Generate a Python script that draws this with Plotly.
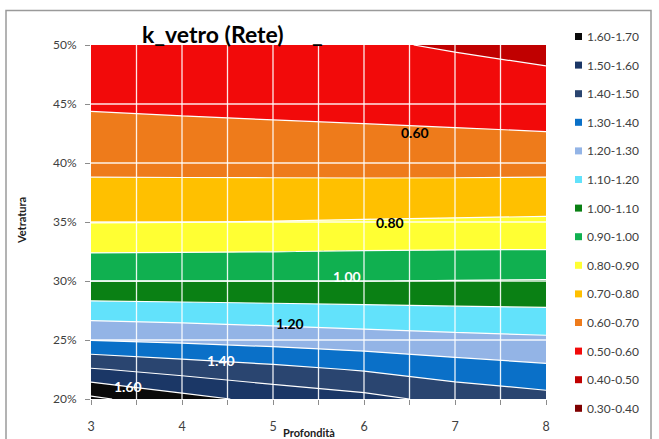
import plotly.graph_objects as go

# ---------------- data ----------------
profondita = [3, 4, 5, 6, 7, 8]
vetratura = [20, 22.5, 25, 27.5, 30, 32.5, 35, 37.5, 40, 42.5, 45, 47.5, 50]
k_vetro = [
    [1.720, 1.634, 1.570, 1.530, 1.470, 1.433],
    [1.509, 1.464, 1.429, 1.392, 1.350, 1.322],
    [1.298, 1.281, 1.262, 1.244, 1.229, 1.217],
    [1.149, 1.141, 1.133, 1.125, 1.117, 1.111],
    [0.999, 0.999, 0.999, 0.999, 1.002, 1.005],
    [0.895, 0.897, 0.899, 0.903, 0.905, 0.906],
    [0.797, 0.799, 0.802, 0.807, 0.811, 0.815],
    [0.728, 0.729, 0.730, 0.731, 0.733, 0.736],
    [0.674, 0.672, 0.670, 0.668, 0.667, 0.667],
    [0.630, 0.624, 0.618, 0.613, 0.608, 0.603],
    [0.590, 0.584, 0.579, 0.574, 0.568, 0.557],
    [0.557, 0.552, 0.547, 0.541, 0.531, 0.513],
    [0.525, 0.520, 0.515, 0.512, 0.490, 0.468],
]

band_labels = ["1.60-1.70", "1.50-1.60", "1.40-1.50", "1.30-1.40", "1.20-1.30",
               "1.10-1.20", "1.00-1.10", "0.90-1.00", "0.80-0.90", "0.70-0.80",
               "0.60-0.70", "0.50-0.60", "0.40-0.50", "0.30-0.40"]
band_colors = ["#0A0A0A", "#1B3766", "#2A4570", "#0A70C8", "#93B4E6",
               "#62E2FB", "#0A8014", "#10B050", "#FFFF33", "#FFC000",
               "#EE7B1B", "#F20A0A", "#C00000", "#7F0000"]

contour_label_text = ["1.60", "1.40", "1.20", "1.00", "0.80", "0.60"]
contour_label_x = [3.41, 4.43, 5.19, 5.81, 6.29, 6.56]
contour_label_y = [21.1, 23.3, 26.4, 30.36, 34.94, 42.6]
contour_label_color = ["white", "white", "black", "white", "black", "black"]

x_tick_vals = [3, 3.5, 4, 4.5, 5, 5.5, 6, 6.5, 7, 7.5, 8]
x_tick_text = ["3", "", "4", "", "5", "", "6", "", "7", "", "8"]
y_tick_vals = [20, 25, 30, 35, 40, 45, 50]
y_tick_text = ["20%", "25%", "30%", "35%", "40%", "45%", "50%"]

# ---------------- layout geometry ----------------
W, H = 659, 439
ML, MR, MT, MB = 91, 113, 45, 40
PW, PH = W - ML - MR, H - MT - MB
FONT = "Lato, 'Open Sans', sans-serif"


def px_x(px):
    return (px - ML) / PW


def px_y(py):
    return (H - MB - py) / PH


# step colorscale: band above level L is coloured at L + size/2
fills = band_colors[::-1]
fills = [fills[0]] + fills + [fills[-1]]
n = len(fills) - 1
colorscale = []
for i, c in enumerate(fills):
    lo = max(0.0, (i - 0.5) / n)
    hi = min(1.0, (i + 0.5) / n)
    colorscale.append([lo, c])
    colorscale.append([hi, c])

fig = go.Figure()
fig.add_trace(go.Contour(
    x=profondita, y=vetratura, z=k_vetro,
    autocontour=False,
    contours=dict(start=0.3, end=1.7, size=0.1, coloring="fill", showlines=True),
    line=dict(color="white", width=1.2, smoothing=0),
    colorscale=colorscale, showscale=False,
    hovertemplate="Profondità %{x}<br>Vetratura %{y}%<br>k_vetro %{z:.2f}<extra></extra>",
))

shapes = []
# white gridlines above the filled contours
for xv in x_tick_vals[1:-1]:
    shapes.append(dict(type="line", xref="x", yref="paper", x0=xv, x1=xv, y0=0, y1=1,
                       line=dict(color="rgba(255,255,255,0.9)", width=1.3), layer="above"))
for yv in y_tick_vals[1:-1]:
    shapes.append(dict(type="line", xref="paper", yref="y", x0=0, x1=1, y0=yv, y1=yv,
                       line=dict(color="rgba(255,255,255,0.9)", width=1.3), layer="above"))
# outer chart frame
shapes.append(dict(type="rect", xref="paper", yref="paper",
                   x0=px_x(6), x1=px_x(651), y0=px_y(446), y1=px_y(10.5),
                   line=dict(color="#9A9A9A", width=1.5), fillcolor="rgba(0,0,0,0)", layer="above"))

annotations = []
# legend
for i, (lab, col) in enumerate(zip(band_labels, band_colors)):
    cy = 36.5 + 28.6 * i
    shapes.append(dict(type="rect", xref="paper", yref="paper",
                       x0=px_x(575), x1=px_x(582), y0=px_y(cy + 3.5), y1=px_y(cy - 3.5),
                       line=dict(width=0), fillcolor=col, layer="above"))
    annotations.append(dict(text=lab, xref="paper", yref="paper", x=px_x(585), y=px_y(cy),
                            xanchor="left", yanchor="middle", showarrow=False,
                            font=dict(family=FONT, size=12, color="#404040")))

# contour labels
for t, xv, yv, c in zip(contour_label_text, contour_label_x, contour_label_y, contour_label_color):
    annotations.append(dict(text="<b>%s</b>" % t, x=xv, y=yv, xref="x", yref="y",
                            xanchor="center", yanchor="middle",
                            showarrow=False, font=dict(family=FONT, size=14, color=c)))

# title and axis titles
annotations.append(dict(text="<b>k_vetro (Rete)</b>", xref="paper", yref="paper",
                        x=px_x(212.5), y=px_y(34), xanchor="center", yanchor="middle",
                        showarrow=False, font=dict(family=FONT, size=23, color="black")))
annotations.append(dict(text="<b>_</b>", xref="paper", yref="paper",
                        x=px_x(317.5), y=px_y(34), xanchor="center", yanchor="middle",
                        showarrow=False, font=dict(family=FONT, size=23, color="black")))
annotations.append(dict(text="<b>Vetratura</b>", xref="paper", yref="paper",
                        x=px_x(21), y=px_y(221), xanchor="center", yanchor="middle",
                        textangle=-90, showarrow=False,
                        font=dict(family=FONT, size=11, color="#202020")))
annotations.append(dict(text="<b>Profondità</b>", xref="paper", yref="paper",
                        x=px_x(309), y=px_y(433), xanchor="center", yanchor="middle",
                        showarrow=False, font=dict(family=FONT, size=11, color="#202020")))

fig.update_layout(
    template="none",
    width=W, height=H,
    margin=dict(l=ML, r=MR, t=MT, b=MB, pad=0),
    paper_bgcolor="white", plot_bgcolor="white",
    showlegend=False,
    font=dict(family=FONT, size=12, color="#404040"),
    xaxis=dict(range=[3, 8], tickvals=x_tick_vals, ticktext=x_tick_text,
               ticks="outside", ticklen=5, tickcolor="#8C8C8C", showgrid=False,
               zeroline=False, showline=False, ticklabelstandoff=11, automargin=False,
               tickfont=dict(family=FONT, size=12.5, color="#404040")),
    yaxis=dict(range=[20, 50], tickvals=y_tick_vals, ticktext=y_tick_text,
               ticks="outside", ticklen=5, tickcolor="#8C8C8C", showgrid=False,
               zeroline=False, showline=False, ticklabelstandoff=6, automargin=False,
               tickfont=dict(family=FONT, size=12, color="#404040")),
    shapes=shapes, annotations=annotations,
)

fig.write_html("out.html", config={"displayModeBar": False},
               post_script="document.body.style.margin='0px';")
